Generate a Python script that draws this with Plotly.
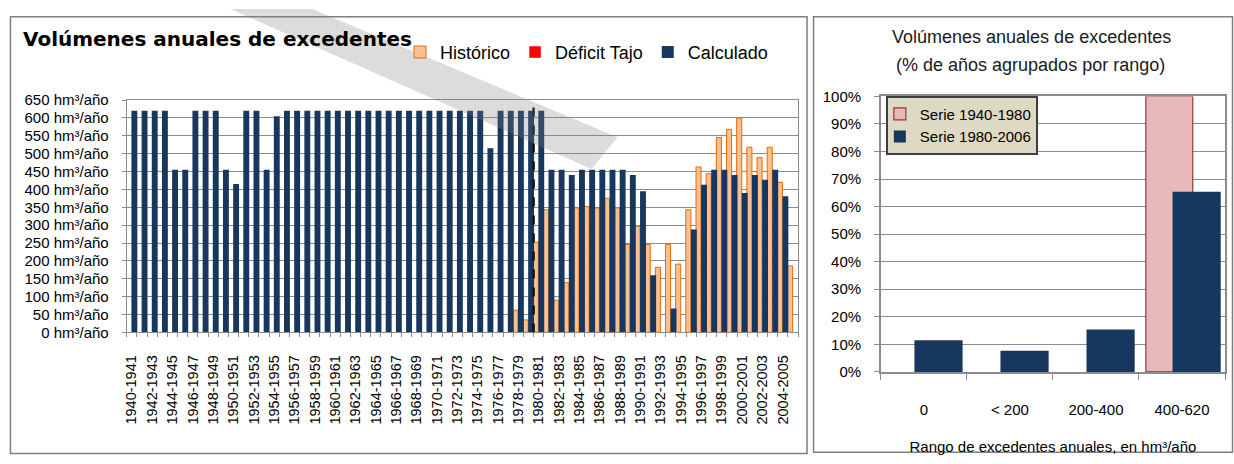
import plotly.graph_objects as go

W, H = 1234, 464


def px(x):
    return x / W


def py(y):
    return 1 - y / H


# ---------------- data: left chart ----------------
years = [f"{a}-{a + 1}" for a in range(1940, 2006)]
idx = list(range(len(years)))

calculado = [
    620, 620, 620, 620, 455, 455, 620, 620, 620, 455,
    415, 620, 620, 455, 605, 620, 620, 620, 620, 620,
    620, 620, 620, 620, 620, 620, 620, 620, 620, 620,
    620, 620, 620, 620, 620, 515, 620, 620, 620, 620,
    620, 455, 455, 440, 455, 455, 455, 455, 455, 440,
    395, 160, 0, 67, 0, 288, 413, 455, 455, 440,
    390, 440, 427, 455, 381, 0,
]

historico = [None] * 38 + [
    62, 35, 252, 343, 90, 139, 348, 352, 348, 375,
    348, 246, 297, 246, 182, 246, 191, 343, 463, 444,
    545, 568, 599, 518, 489, 518, 420, 186,
]

y_ticks = [0, 50, 100, 150, 200, 250, 300, 350, 400, 450, 500, 550, 600, 650]
y_ticktext = [f"{v} hm³/año" for v in y_ticks]

# ---------------- data: right chart ----------------
rangos = ["0", "< 200", "200-400", "400-620"]
serie_1940_1980 = [0, 0, 0, 100]
serie_1980_2006 = [11.5, 7.7, 15.4, 65.4]

NAVY = "#17375E"
FONT = "Liberation Sans, Arial, sans-serif"
GRID = "#8C8C8C"

fig = go.Figure()

fig.add_trace(go.Bar(
    x=idx, y=historico, name="Histórico",
    marker=dict(color="#FAC090", line=dict(color="#E46C0A", width=1)),
    width=0.5, offset=-0.535, xaxis="x", yaxis="y", legend="legend",
))
fig.add_trace(go.Bar(
    x=[None], y=[None], name="Déficit Tajo",
    marker=dict(color="#FF0000"), xaxis="x", yaxis="y", legend="legend",
))
fig.add_trace(go.Bar(
    x=idx, y=calculado, name="Calculado",
    marker=dict(color=NAVY, line=dict(width=0)),
    width=0.58, offset=-0.035, xaxis="x", yaxis="y", legend="legend",
))

# zero-height bars are not drawn (as in the original), so 0 -> None for drawing
fig.add_trace(go.Bar(
    x=rangos, y=[v if v else None for v in serie_1940_1980], name="Serie 1940-1980",
    marker=dict(color="#E6B9B8", line=dict(color="#953735", width=1.2)),
    width=0.545, offset=-0.42, xaxis="x2", yaxis="y2",
    legend="legend2", legendgroup="a",
))
fig.add_trace(go.Bar(
    x=rangos, y=serie_1980_2006, name="Serie 1980-2006",
    marker=dict(color=NAVY, line=dict(width=0)),
    width=0.56, offset=-0.11, xaxis="x2", yaxis="y2",
    legend="legend2", legendgroup="b",
))

corte = years.index("1980-1981") - 0.5

fig.update_layout(
    width=W, height=H,
    margin=dict(l=0, r=0, t=0, b=0),
    paper_bgcolor="white", plot_bgcolor="white",
    barmode="overlay",
    font=dict(family=FONT, color="#000000", size=15),
    xaxis=dict(
        domain=[px(124), px(797)], range=[-0.5, len(years) - 0.5],
        tickmode="array", tickvals=idx[::2], ticktext=years[::2],
        tickangle=-90, tickfont=dict(size=14.5),
        ticks="", ticklabelstandoff=16,
        minor=dict(ticks="outside", ticklen=4, tickcolor=GRID,
                   tickvals=[i - 0.5 for i in range(len(years) + 1)]),
        showline=True, linecolor=GRID, linewidth=1, mirror=True,
        showgrid=False, zeroline=False, anchor="y",
    ),
    yaxis=dict(
        domain=[py(335.7), py(94.5)], range=[0, 650],
        tickmode="array", tickvals=y_ticks, ticktext=y_ticktext,
        tickfont=dict(size=15), ticks="outside", ticklen=4, tickcolor=GRID,
        ticklabelstandoff=10,
        showline=True, linecolor=GRID, linewidth=1, mirror=True,
        showgrid=True, gridcolor=GRID, gridwidth=1, zeroline=False,
        anchor="x",
    ),
    xaxis2=dict(
        domain=[px(880), px(1225)], type="category",
        range=[-0.5, 3.5], tickson="boundaries",
        ticks="outside", ticklen=6, tickcolor=GRID,
        tickfont=dict(size=15), ticklabelstandoff=23,
        showline=True, linecolor=GRID, linewidth=1.5, mirror=True,
        showgrid=False, zeroline=False, anchor="y2",
        title=dict(text="Rango de excedentes anuales, en hm³/año",
                   font=dict(size=15), standoff=25),
    ),
    yaxis2=dict(
        domain=[py(376.7), py(90.7)], range=[0, 100],
        dtick=10, ticksuffix="%", tickfont=dict(size=15),
        ticks="outside", ticklen=5, tickcolor=GRID, ticklabelstandoff=10,
        showline=True, linecolor=GRID, linewidth=1.5, mirror=True,
        showgrid=True, gridcolor=GRID, gridwidth=1, zeroline=False,
        anchor="x2",
    ),
    legend=dict(
        orientation="h", x=px(398), y=py(45), xanchor="left", yanchor="middle",
        font=dict(size=18, color="#000000"), bgcolor="rgba(0,0,0,0)",
        traceorder="normal",
    ),
    legend2=dict(
        orientation="v", x=px(885), y=py(90), xanchor="left", yanchor="top",
        font=dict(size=15, color="#000000"), bgcolor="#DDD9C3",
        bordercolor="#3F3F3F", borderwidth=2, tracegroupgap=13,
        indentation=-8, traceorder="normal",
    ),
    shapes=[
        dict(type="rect", xref="paper", yref="paper",
             x0=px(7.5), x1=px(806), y0=py(461.5), y1=py(8),
             line=dict(color="#7F7F7F", width=1.5), fillcolor="rgba(0,0,0,0)"),
        dict(type="rect", xref="paper", yref="paper",
             x0=px(812.5), x1=px(1232.5), y0=py(460), y1=py(8),
             line=dict(color="#7F7F7F", width=1.5), fillcolor="rgba(0,0,0,0)"),
        dict(type="line", xref="x", yref="y", x0=corte, x1=corte, y0=0, y1=650,
             line=dict(color="#111111", width=2.5, dash="dash")),
        # watermark band (light grey, semi-transparent)
        dict(type="path", xref="paper", yref="paper", layer="above",
             path=(f"M {px(228)},{py(0)} L {px(310)},{py(0)} "
                   f"L {px(616)},{py(133)} L {px(590)},{py(166)} Z"),
             fillcolor="rgba(128,128,128,0.28)", line=dict(width=0)),
    ],
    annotations=[
        dict(text="<b>Volúmenes anuales de excedentes</b>", xref="paper", yref="paper",
             x=px(18), y=py(31), xanchor="left", yanchor="middle", showarrow=False,
             font=dict(family="DejaVu Sans, sans-serif", size=20, color="#000000")),
        dict(text="Volúmenes anuales de excedentes", xref="paper", yref="paper",
             x=px(1031), y=py(29), xanchor="center", yanchor="middle", showarrow=False,
             font=dict(size=18, color="#1A1A1A")),
        dict(text="(% de años agrupados por rango)", xref="paper", yref="paper",
             x=px(1030), y=py(58), xanchor="center", yanchor="middle", showarrow=False,
             font=dict(size=18, color="#1A1A1A")),
    ],
)

fig.write_html(
    "out.html",
    config={"displayModeBar": False},
    post_script="document.body.style.margin='0px';document.body.style.overflow='hidden';",
)
